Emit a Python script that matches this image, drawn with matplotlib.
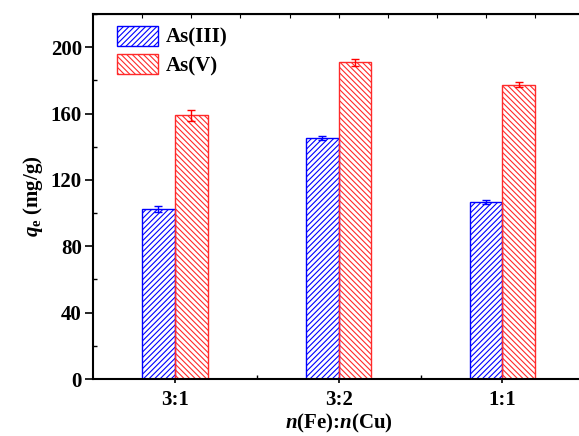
import matplotlib
matplotlib.use("Agg")
import matplotlib.pyplot as plt
import numpy as np
from matplotlib.ticker import MultipleLocator, FixedLocator

# data
ratios = ["3:1", "3:2", "1:1"]
as3_values = [102.5, 145.3, 106.4]
as3_errors = [2.0, 1.0, 1.2]
as5_values = [159.0, 190.8, 177.3]
as5_errors = [3.3, 2.0, 1.6]
series_names = ["As(III)", "As(V)"]

plt.rcParams["font.family"] = ["Liberation Serif", "DejaVu Serif"]
plt.rcParams["font.weight"] = "bold"
plt.rcParams["mathtext.fontset"] = "custom"
plt.rcParams["mathtext.rm"] = "Liberation Serif:bold"
plt.rcParams["mathtext.it"] = "Liberation Serif:italic:bold"
plt.rcParams["mathtext.bf"] = "Liberation Serif:bold"
plt.rcParams["hatch.linewidth"] = 0.8

fig = plt.figure(figsize=(5.79, 4.36), dpi=100)
ax = fig.add_axes([0.1606, 0.1307, 0.8486, 0.8372])

x = np.arange(1, len(ratios) + 1)
width = 0.2

# Draw bars with hatching
ax.bar(x - width / 2, as3_values, width, yerr=as3_errors, color="none",
       edgecolor="blue", hatch="//////", linewidth=1.0, label=series_names[0],
       error_kw=dict(ecolor="blue", elinewidth=1.0, capsize=3, capthick=1.0))
ax.bar(x + width / 2, as5_values, width, yerr=as5_errors, color="none",
       edgecolor="#ff2a2a", hatch="\\\\\\\\\\\\", linewidth=1.0, label=series_names[1],
       error_kw=dict(ecolor="red", elinewidth=1.0, capsize=3, capthick=1.0))

ax.set_xlim(0.5, 3.5)
ax.set_ylim(0, 220)

ax.set_xticks(x)
ax.set_xticklabels(ratios)
ax.xaxis.set_minor_locator(FixedLocator([1.5, 2.5]))
ax.yaxis.set_major_locator(MultipleLocator(40))
ax.yaxis.set_minor_locator(MultipleLocator(20))

ax.tick_params(axis="both", which="major", direction="out", length=6, width=1.2,
               labelsize=15, pad=2)
ax.tick_params(axis="both", which="minor", direction="in", length=3, width=1.0)
ax.tick_params(axis="x", which="major", length=3, pad=5)

for spine in ax.spines.values():
    spine.set_linewidth(1.5)

# top axis ticks (inward, no labels)
top = ax.secondary_xaxis("top")
top.set_xticks(np.arange(0.8, 3.3, 0.3))
top.tick_params(direction="in", length=3, width=0.8, labeltop=False)

ax.set_ylabel(r"$q_\mathrm{e}$ (mg/g)", fontsize=15, fontweight="bold", labelpad=4)
ax.set_xlabel(r"$n$(Fe):$n$(Cu)", fontsize=15, fontweight="bold", labelpad=1)

ax.legend(loc="upper left", bbox_to_anchor=(0.048, 0.968), frameon=False,
          fontsize=15, handlelength=2.0, handleheight=1.1, borderpad=0,
          borderaxespad=0, labelspacing=0.3, handletextpad=0.35)

fig.savefig("out.png", dpi=100)
